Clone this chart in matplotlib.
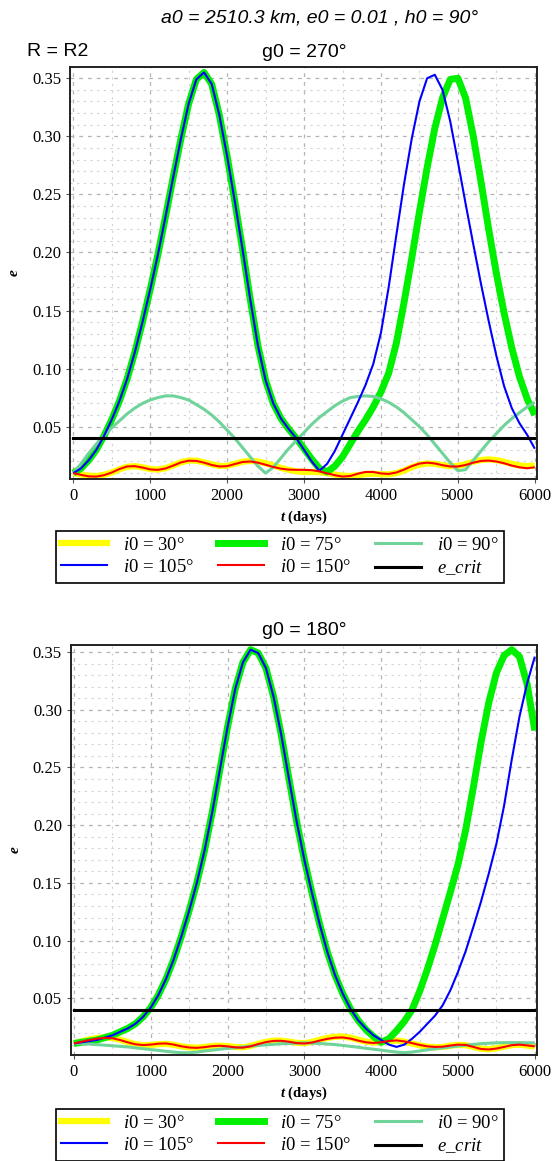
import numpy as np
import matplotlib
matplotlib.use('Agg')
import matplotlib.pyplot as plt
from matplotlib.ticker import MultipleLocator, FormatStrFormatter
from matplotlib.lines import Line2D

plt.rcParams['font.family'] = 'Liberation Serif'
plt.rcParams['mathtext.fontset'] = 'custom'
plt.rcParams['mathtext.rm'] = 'Liberation Serif'
plt.rcParams['mathtext.it'] = 'Liberation Serif:italic'
plt.rcParams['mathtext.bf'] = 'Liberation Serif:bold'
plt.rcParams['mathtext.bfit'] = 'Liberation Serif:italic:bold'

# time grid (days), every 100 days
t = list(range(0, 6001, 100))
e_crit = 0.04

# ---- g0 = 270 ----
top_i30 = [0.0100, 0.0088, 0.0078, 0.0075, 0.0085, 0.0105, 0.0133, 0.0155, 0.0160, 0.0150,
           0.0135, 0.0130, 0.0142, 0.0167, 0.0193, 0.0208, 0.0207, 0.0193, 0.0175, 0.0162,
           0.0163, 0.0180, 0.0198, 0.0205, 0.0200, 0.0185, 0.0165, 0.0145, 0.0128, 0.0115,
           0.0110, 0.0110, 0.0108, 0.0100, 0.0088, 0.0078, 0.0075, 0.0082, 0.0092, 0.0095,
           0.0090, 0.0090, 0.0100, 0.0122, 0.0150, 0.0173, 0.0183, 0.0180, 0.0168, 0.0160,
           0.0162, 0.0177, 0.0198, 0.0213, 0.0218, 0.0212, 0.0198, 0.0180, 0.0165, 0.0160,
           0.0165]
top_i75 = [0.010, 0.014, 0.021, 0.030, 0.042, 0.056, 0.072, 0.091, 0.114, 0.140,
           0.168, 0.198, 0.231, 0.265, 0.298, 0.328, 0.349, 0.355, 0.345, 0.318,
           0.283, 0.244, 0.203, 0.160, 0.120, 0.090, 0.070, 0.057, 0.048, 0.040,
           0.031, 0.022, 0.014, 0.011, 0.016, 0.024, 0.035, 0.046, 0.056, 0.067,
           0.080, 0.096, 0.122, 0.157, 0.195, 0.235, 0.273, 0.307, 0.333, 0.349,
           0.350, 0.333, 0.300, 0.261, 0.220, 0.182, 0.148, 0.118, 0.093, 0.074,
           0.060]
top_i90 = [0.010, 0.018, 0.027, 0.035, 0.042, 0.049, 0.055, 0.061, 0.066, 0.070,
           0.073, 0.075, 0.0765, 0.0765, 0.075, 0.073, 0.069, 0.065, 0.060, 0.054,
           0.047, 0.040, 0.032, 0.024, 0.016, 0.010, 0.015, 0.023, 0.031, 0.038,
           0.045, 0.052, 0.058, 0.063, 0.068, 0.072, 0.075, 0.076, 0.0765, 0.076,
           0.074, 0.071, 0.067, 0.062, 0.056, 0.050, 0.043, 0.035, 0.027, 0.019,
           0.012, 0.013, 0.021, 0.029, 0.037, 0.044, 0.051, 0.057, 0.062, 0.067,
           0.071]
top_i105 = [0.010, 0.014, 0.021, 0.030, 0.042, 0.056, 0.072, 0.091, 0.114, 0.140,
            0.168, 0.198, 0.231, 0.265, 0.298, 0.328, 0.349, 0.355, 0.345, 0.318,
            0.283, 0.244, 0.203, 0.160, 0.120, 0.090, 0.070, 0.057, 0.048, 0.040,
            0.030, 0.020, 0.012, 0.018, 0.029, 0.043, 0.057, 0.071, 0.086, 0.104,
            0.131, 0.170, 0.215, 0.259, 0.298, 0.330, 0.350, 0.353, 0.340, 0.313,
            0.278, 0.242, 0.207, 0.173, 0.141, 0.111, 0.085, 0.066, 0.053, 0.043,
            0.031]
top_i150 = [0.0100, 0.0085, 0.0072, 0.0070, 0.0082, 0.0105, 0.0135, 0.0157, 0.0160, 0.0148,
            0.0132, 0.0128, 0.0140, 0.0165, 0.0192, 0.0207, 0.0205, 0.0190, 0.0170, 0.0157,
            0.0160, 0.0178, 0.0196, 0.0200, 0.0190, 0.0172, 0.0153, 0.0138, 0.0130, 0.0128,
            0.0128, 0.0125, 0.0115, 0.0098, 0.0082, 0.0070, 0.0075, 0.0095, 0.0110, 0.0110,
            0.0097, 0.0093, 0.0105, 0.0130, 0.0160, 0.0182, 0.0190, 0.0183, 0.0168, 0.0157,
            0.0157, 0.0170, 0.0190, 0.0205, 0.0208, 0.0200, 0.0185, 0.0165, 0.0150, 0.0142,
            0.0150]

# ---- g0 = 180 ----
bot_i30 = [0.0110, 0.0128, 0.0145, 0.0157, 0.0162, 0.0158, 0.0143, 0.0122, 0.0104, 0.0095,
           0.0097, 0.0104, 0.0106, 0.0098, 0.0085, 0.0076, 0.0074, 0.0080, 0.0088, 0.0091,
           0.0087, 0.0079, 0.0077, 0.0088, 0.0107, 0.0124, 0.0134, 0.0134, 0.0126, 0.0115,
           0.0113, 0.0123, 0.0142, 0.0158, 0.0168, 0.0170, 0.0160, 0.0142, 0.0126, 0.0118,
           0.0122, 0.0132, 0.0135, 0.0126, 0.0110, 0.0094, 0.0082, 0.0077, 0.0080, 0.0090,
           0.0098, 0.0095, 0.0080, 0.0064, 0.0060, 0.0068, 0.0082, 0.0096, 0.0100, 0.0092,
           0.0083]
bot_i75 = [0.011, 0.012, 0.013, 0.014, 0.016, 0.018, 0.021, 0.024, 0.028, 0.034,
           0.042, 0.053, 0.067, 0.084, 0.104, 0.126, 0.150, 0.178, 0.211, 0.248,
           0.285, 0.318, 0.341, 0.352, 0.349, 0.336, 0.311, 0.278, 0.240, 0.203,
           0.170, 0.141, 0.114, 0.090, 0.070, 0.054, 0.041, 0.031, 0.023, 0.017,
           0.012, 0.015, 0.022, 0.030, 0.040, 0.056, 0.075, 0.096, 0.119, 0.142,
           0.166, 0.196, 0.233, 0.272, 0.306, 0.332, 0.347, 0.352, 0.346, 0.322,
           0.282]
bot_i90 = [0.0110, 0.0108, 0.0105, 0.0100, 0.0095, 0.0090, 0.0085, 0.0080, 0.0072, 0.0065,
           0.0057, 0.0050, 0.0042, 0.0035, 0.0030, 0.0030, 0.0035, 0.0045, 0.0052, 0.0060,
           0.0067, 0.0073, 0.0080, 0.0087, 0.0093, 0.0098, 0.0103, 0.0108, 0.0110, 0.0113,
           0.0115, 0.0113, 0.0110, 0.0105, 0.0100, 0.0093, 0.0085, 0.0077, 0.0068, 0.0060,
           0.0052, 0.0043, 0.0035, 0.0030, 0.0035, 0.0045, 0.0055, 0.0063, 0.0072, 0.0080,
           0.0088, 0.0095, 0.0102, 0.0108, 0.0112, 0.0115, 0.0117, 0.0117, 0.0117, 0.0116,
           0.0115]
bot_i105 = [0.011, 0.012, 0.013, 0.014, 0.016, 0.018, 0.021, 0.024, 0.028, 0.034,
            0.042, 0.053, 0.067, 0.084, 0.104, 0.126, 0.150, 0.178, 0.211, 0.248,
            0.285, 0.318, 0.341, 0.352, 0.349, 0.336, 0.311, 0.278, 0.240, 0.203,
            0.170, 0.141, 0.114, 0.090, 0.070, 0.054, 0.041, 0.031, 0.024, 0.018,
            0.014, 0.010, 0.008, 0.010, 0.015, 0.021, 0.028, 0.035, 0.044, 0.057,
            0.073, 0.091, 0.112, 0.134, 0.158, 0.184, 0.217, 0.257, 0.294, 0.323,
            0.346]
bot_i150 = [0.0110, 0.0125, 0.0140, 0.0152, 0.0158, 0.0155, 0.0140, 0.0120, 0.0103, 0.0096,
            0.0100, 0.0108, 0.0110, 0.0100, 0.0085, 0.0075, 0.0072, 0.0078, 0.0087, 0.0090,
            0.0085, 0.0076, 0.0074, 0.0085, 0.0105, 0.0122, 0.0132, 0.0133, 0.0125, 0.0113,
            0.0110, 0.0118, 0.0135, 0.0150, 0.0160, 0.0162, 0.0152, 0.0135, 0.0120, 0.0114,
            0.0120, 0.0132, 0.0136, 0.0128, 0.0113, 0.0097, 0.0085, 0.0080, 0.0082, 0.0092,
            0.0100, 0.0097, 0.0080, 0.0062, 0.0058, 0.0066, 0.0080, 0.0095, 0.0100, 0.0093,
            0.0085]

labels = [r'$\mathit{i0}$ = 30°', r'$\mathit{i0}$ = 75°', r'$\mathit{i0}$ = 90°',
          r'$\mathit{i0}$ = 105°', r'$\mathit{i0}$ = 150°', r'$\mathit{e\_crit}$']
colors = ['#ffff00', '#00f000', '#6fd39a', '#0000ff', '#ff0000', '#000000']
widths = [4.5, 5.0, 2.2, 1.5, 1.5, 2.2]


def draw_panel(ax, series, title, ylim):
    for ys, c, lw in zip(series, colors[:5], widths[:5]):
        ax.plot(t, ys, color=c, linewidth=lw, solid_joinstyle='round', solid_capstyle='butt')
    ax.plot([t[0], t[-1]], [e_crit, e_crit], color=colors[5], linewidth=widths[5])
    ax.set_xlim(-38, 6032)
    ax.set_ylim(*ylim)
    ax.xaxis.set_major_locator(MultipleLocator(1000))
    ax.xaxis.set_minor_locator(MultipleLocator(500))
    ax.yaxis.set_major_locator(MultipleLocator(0.05))
    ax.yaxis.set_minor_locator(MultipleLocator(0.01))
    ax.yaxis.set_major_formatter(FormatStrFormatter('%.2f'))
    ax.grid(which='major', color='#b4b4b4', linestyle=(0, (3, 4)), linewidth=0.9)
    ax.grid(which='minor', color='#d2d2d2', linestyle=(0, (2, 4)), linewidth=0.8)
    ax.set_axisbelow(True)
    ax.tick_params(which='major', length=3, width=0.8, labelsize=12, color='#555555')
    ax.tick_params(which='minor', length=0)
    for s in ax.spines.values():
        s.set_linewidth(1.4)
        s.set_color('#222222')
    ax.set_title(title, fontsize=14, family='Liberation Sans', pad=7)
    ax.set_xlabel(r'$\mathbfit{t}$ (days)', fontsize=10.5, fontweight='bold', labelpad=3)
    ax.set_ylabel('e', fontsize=11, fontstyle='italic', fontweight='bold', rotation=90, labelpad=8)


fig = plt.figure(figsize=(5.55, 11.61), dpi=100)
ax1 = fig.add_axes([0.1267, 0.5872, 0.8414, 0.3554])
ax2 = fig.add_axes([0.1279, 0.0913, 0.8402, 0.3531])

draw_panel(ax1, [top_i30, top_i75, top_i90, top_i105, top_i150], 'g0 = 270°', (0.0047, 0.360))
draw_panel(ax2, [bot_i30, bot_i75, bot_i90, bot_i105, bot_i150], 'g0 = 180°', (0.0010, 0.356))

fig.text(320 / 555, 1 - 18 / 1161, 'a0 = 2510.3 km, e0 = 0.01 , h0 = 90°', ha='center', va='center',
         fontsize=14, fontstyle='italic', family='Liberation Sans')
fig.text(27 / 555, 1 - 52 / 1161, 'R = R2', ha='left', va='center', fontsize=14, family='Liberation Sans')

# legend order: matplotlib fills columns first
order = [0, 3, 1, 4, 2, 5]
handles = [Line2D([], [], color=colors[i], linewidth=widths[i]) for i in order]
leg_labels = [labels[i] for i in order]
for yc in [1 - 557 / 1161, 1 - 1135 / 1161]:
    fig.legend(handles, leg_labels, loc='center', bbox_to_anchor=(280 / 555, yc), ncol=3,
               fontsize=13.5, frameon=True, fancybox=False, edgecolor='black', framealpha=1,
               handlelength=2.45, handletextpad=0.85, columnspacing=1.28, borderpad=0.3,
               labelspacing=0.25, borderaxespad=0)
for leg in fig.legends:
    leg.get_frame().set_linewidth(1.2)

fig.savefig('out.png', dpi=100)
